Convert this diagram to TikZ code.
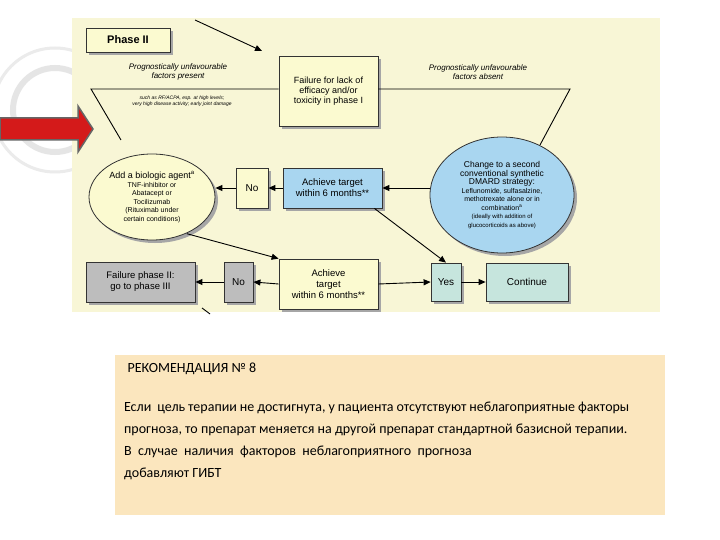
\documentclass[tikz,border=0pt]{standalone}
\usepackage{fontspec}
\setmainfont{Liberation Sans}
\newfontfamily\calib{Carlito}
\usetikzlibrary{arrows.meta,shapes.geometric}
\definecolor{bgy}{HTML}{F8F6D6}
\definecolor{boxy}{HTML}{FBFAD0}
\definecolor{boxb}{HTML}{A9D6F0}
\definecolor{boxg}{HTML}{BDBDBD}
\definecolor{boxt}{HTML}{C6E5DD}
\definecolor{tan}{HTML}{FBE6BE}
\definecolor{redar}{HTML}{D41A1A}
\newcommand{\fa}{\fontsize{8.5}{9.5}\selectfont}
\newcommand{\fb}{\fontsize{7}{8.5}\selectfont}
\newcommand{\fc}{\fontsize{6}{7.5}\selectfont}
\begin{document}
\begin{tikzpicture}[x=1pt,y=-1pt,
  bx/.style={draw=black!80,line width=0.8pt,align=center,inner sep=1pt,font=\fontsize{9}{10}\selectfont},
  ar/.style={-{Triangle[length=7pt,width=6pt]},line width=0.9pt},
  shadow/.style={fill=black!35}]
\useasboundingbox (0,0) rectangle (720,540);
\fill[white] (0,0) rectangle (720,540);
\draw[black!10,line width=6pt] (55,110) circle (42);
\draw[black!8,line width=3pt] (55,110) circle (62);
% diagram background
\fill[bgy] (72,18) rectangle (660,312);
% red arrow
\fill[redar,draw=black!60,line width=1.5pt] (0,118)--(78,118)--(78,106)--(93,129)--(78,152)--(78,140)--(0,140)--cycle;
% phase II
\fill[shadow] (89,31) rectangle (173,55);
\node[bx,fill=boxy,minimum width=84pt,minimum height=24pt,font=\fontsize{11}{12}\selectfont\bfseries] (ph) at (128,40) {Phase II};
\coordinate (t0) at (195,20);
\coordinate (t1) at (262,51);
\draw[ar] (t0)--(t1);
% failure box
\fill[shadow] (282,59) rectangle (381,129);
\node[bx,fill=boxy,minimum width=99pt,minimum height=70pt] (fail) at (328.5,91) {Failure for lack of\\efficacy and/or\\toxicity in phase I};
\coordinate (L) at (91,89);
\coordinate (R) at (570,89);
\coordinate (Ld) at (121,140);
\coordinate (Rd) at (540,145);
\draw[line width=0.9pt] (Ld)--(L)--(fail.west|-L);
\draw[line width=0.9pt] (Rd)--(R)--(fail.east|-R);
\node[font=\fontsize{8}{9}\selectfont\itshape,align=center] (pl) at (178,72) {Prognostically unfavourable\\factors present};
\node[font=\fontsize{8}{9}\selectfont\itshape,align=center] (pr) at (478,72) {Prognostically unfavourable\\factors absent};
\node[font=\fontsize{5}{6}\selectfont\itshape,align=center] (ex) at (182,101) {such as RF/ACPA, esp. at high levels;\\very high disease activity; early joint damage};
% ellipses
\fill[shadow] (155,200) ellipse (63 and 43);
\node[draw=black!80,line width=0.8pt,fill=boxy,ellipse,minimum width=126pt,minimum height=86pt,inner sep=0pt] (bio) at (152,197) {};
\node[align=center,font=\fb] (biot) at (bio) {\fontsize{9}{10}\selectfont Add a biologic agent\textsuperscript{a}\\\fb TNF-inhibitor or\\\fb Abatacept or\\\fb Tocilizumab\\\fb (Rituximab under\\\fb certain conditions)};
\fill[shadow] (505,198) ellipse (72 and 58);
\node[draw=black!80,line width=0.8pt,fill=boxb,ellipse,minimum width=144pt,minimum height=116pt,inner sep=0pt] (dm) at (502,195) {};
\node[align=center,font=\fb] (dmt) at (dm) {\fa Change to a second\\\fa conventional synthetic\\\fa DMARD strategy:\\\fb Leflunomide, sulfasalzine,\\\fb methotrexate alone or in\\\fb combination\textsuperscript{a}\\\fc (ideally with addition of\\\fc glucocorticoids as above)};
% row 1
\fill[shadow] (239,171) rectangle (271,211);
\node[bx,fill=boxy,minimum width=32pt,minimum height=40pt,font=\fontsize{10}{11}\selectfont] (no1) at (252,188) {No};
\fill[shadow] (286,171) rectangle (385,211);
\node[bx,fill=boxb,minimum width=99pt,minimum height=40pt,font=\fontsize{9.5}{11}\selectfont] (ac1) at (332.5,188) {Achieve target\\within 6 months**};
% row 2
\fill[shadow] (89,265) rectangle (198,305);
\node[bx,fill=boxg,minimum width=109pt,minimum height=40pt,font=\fontsize{9.5}{11}\selectfont] (f2) at (140.5,282) {Failure phase II:\\go to phase III};
\fill[shadow] (227,265) rectangle (256,305);
\node[bx,fill=boxg,minimum width=29pt,minimum height=40pt,font=\fontsize{10}{11}\selectfont] (no2) at (238.5,282) {No};
\fill[shadow] (282,262) rectangle (381,312);
\node[bx,fill=boxy,minimum width=99pt,minimum height=50pt,font=\fontsize{9.5}{11}\selectfont] (ac2) at (328.5,284) {Achieve\\target\\within 6 months**};
\fill[shadow] (434,266) rectangle (464,304);
\node[bx,fill=boxt,minimum width=30pt,minimum height=38pt,font=\fontsize{10}{11}\selectfont] (yes) at (446,282) {Yes};
\fill[shadow] (489,266) rectangle (571,304);
\node[bx,fill=boxt,minimum width=82pt,minimum height=38pt,font=\fontsize{10}{11}\selectfont] (cont) at (527,282) {Continue};
% connectors
\draw[ar] (dm.west|-ac1) -- (ac1.east);
\draw[ar] (ac1.west) -- (no1.east);
\draw[ar] (no1.west) -- (bio.east|-no1);
\draw[ar] ([xshift=-8pt]ac1.south east) -- (yes.north);
\draw[ar] ([xshift=-10pt,yshift=-6pt]bio.south east) -- (ac2.north west);
\draw[ar] (ac2.west) -- (no2.east);
\draw[ar] (no2.west) -- (f2.east);
\draw[ar] (ac2.east) -- (yes.west);
\draw[ar] (yes.east) -- (cont.west);
\coordinate (ba) at (202,308);
\coordinate (bb) at (210,314);
\draw[line width=0.9pt] (ba)--(bb);
% text box
\fill[tan] (115,355) rectangle (665,515);
\node[anchor=west,font=\calib\fontsize{14}{16}\selectfont] (rec) at (124,369) {РЕКОМЕНДАЦИЯ № 8};
\node[anchor=north west,text width=505pt,align=justify,inner sep=0pt,font=\calib\fontsize{14}{22}\selectfont] (par) at (124,402) {Если\ \ цель терапии не достигнута, у пациента отсутствуют неблагоприятные факторы прогноза, то препарат меняется на другой препарат стандартной базисной терапии.\\В\ \ случае\ \ наличия\ \ факторов\ \ неблагоприятного\ \ прогноза\\добавляют ГИБТ};
\end{tikzpicture}
\end{document}
